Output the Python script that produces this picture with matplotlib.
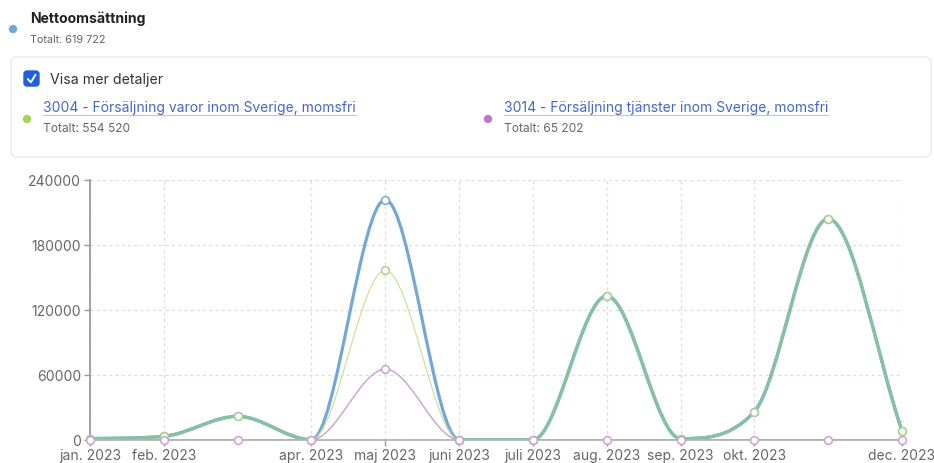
import numpy as np
import matplotlib
matplotlib.use("Agg")
import matplotlib.pyplot as plt
from matplotlib.path import Path
from matplotlib.patches import PathPatch, FancyBboxPatch, Circle

plt.rcParams['font.family'] = ['Inter', 'DejaVu Sans']

# --- data ---
months = ["jan. 2023", "feb. 2023", "mar. 2023", "apr. 2023", "maj 2023", "juni 2023",
          "juli 2023", "aug. 2023", "sep. 2023", "okt. 2023", "nov. 2023", "dec. 2023"]
shown_ticks = [0, 1, 3, 4, 5, 6, 7, 8, 9, 11]   # mar + nov are skipped in the original
varor = [1000, 3100, 21600, 0, 156500, 0, 0, 132800, 1000, 26000, 204200, 8320]      # 3004
tjanster = [0, 0, 0, 0, 65202, 0, 0, 0, 0, 0, 0, 0]                                   # 3014
total = [a + b for a, b in zip(varor, tjanster)]                                       # Nettoomsättning
yticks = [0, 60000, 120000, 180000, 240000]

header_title = "Nettoomsättning"
header_total = "Totalt: 619 722"
check_label = "Visa mer detaljer"
series_names = ["3004 - Försäljning varor inom Sverige, momsfri",
                "3014 - Försäljning tjänster inom Sverige, momsfri"]
series_totals = ["Totalt: 554 520", "Totalt: 65 202"]

BLUE = "#74a7d4"
MINT = "#86c1a2"
LIME = "#c9e39a"
PURPLE = "#cc9fd4"
LINK = "#4467c9"
GREY = "#666666"


def monotone_segments(x, y):
    """bezier control points like chart.js 'monotone' interpolation"""
    x = np.asarray(x, float)
    y = np.asarray(y, float)
    n = len(x)
    d = np.diff(y) / np.diff(x)
    m = np.zeros(n)
    m[0] = d[0]
    m[-1] = d[-1]
    for i in range(1, n - 1):
        if np.sign(d[i - 1]) != np.sign(d[i]):
            m[i] = 0
        else:
            m[i] = (d[i - 1] + d[i]) / 2
    for i in range(n - 1):
        if d[i] == 0:
            m[i] = m[i + 1] = 0
            continue
        a = m[i] / d[i]
        b = m[i + 1] / d[i]
        s = a * a + b * b
        if s > 9:
            t = 3 / np.sqrt(s)
            m[i] = t * a * d[i]
            m[i + 1] = t * b * d[i]
    segs = []
    for i in range(n - 1):
        h = (x[i + 1] - x[i]) / 3
        segs.append([(x[i], y[i]), (x[i] + h, y[i] + m[i] * h),
                     (x[i + 1] - h, y[i + 1] - m[i + 1] * h), (x[i + 1], y[i + 1])])
    return segs


def curve(ax, y, color, lw, keep=None, z=2):
    segs = monotone_segments(range(len(y)), y)
    verts, codes = [], []
    for i, s in enumerate(segs):
        if keep is not None and not keep[i]:
            continue
        verts += s
        codes += [Path.MOVETO, Path.CURVE4, Path.CURVE4, Path.CURVE4]
    p = PathPatch(Path(verts, codes), fill=False, edgecolor=color, lw=lw,
                  capstyle='round', joinstyle='round', zorder=z)
    ax.add_patch(p)


W, H = 934, 464
fig = plt.figure(figsize=(W / 100, H / 100), dpi=100)

# background layer in pixel coords for the header / legend box
bg = fig.add_axes([0, 0, 1, 1])
bg.set_xlim(0, W)
bg.set_ylim(H, 0)
bg.axis("off")

bg.add_patch(Circle((13, 30), 3.5, color=BLUE))
bg.text(30, 19, header_title, fontsize=10.1, fontweight="bold", color="#222222", va="center")
bg.text(30, 40, header_total, fontsize=7.8, color=GREY, va="center")

bg.add_patch(FancyBboxPatch((11, 58), 920, 100, boxstyle="round,pad=0,rounding_size=6",
                            fill=False, edgecolor="#e3e3e3", lw=0.8))
bg.add_patch(FancyBboxPatch((24, 72), 15, 15, boxstyle="round,pad=0,rounding_size=3",
                            color="#1f5fe0"))
bg.plot([27.8, 30.8, 35.5], [80, 83.3, 75.8], color="white", lw=1.4, solid_capstyle="round")
bg.text(50, 80, check_label, fontsize=10.2, color="#333333", va="center")

for xl, dot, name, tot in [(43, "#a6d45e", series_names[0], series_totals[0]),
                           (504, "#b77cc5", series_names[1], series_totals[1])]:
    bg.add_patch(Circle((xl - 16, 120), 3.5, color=dot))
    bg.text(xl, 108, name, fontsize=10.0, color=LINK, va="center")
    bg.text(xl, 129, tot, fontsize=8.6, color=GREY, va="center")

fig.canvas.draw()
r = fig.canvas.get_renderer()
for t in bg.texts:
    if t.get_color() == LINK:
        bb = t.get_window_extent(r)
        bg.plot([bb.x0, bb.x1], [H - bb.y0 + 1, H - bb.y0 + 1], color="#b9c6ea", lw=0.8)

# --- chart ---
ax = fig.add_axes([90 / W, 1 - 440.7 / H, (902 - 90) / W, (440.7 - 181) / H])
ax.set_xlim(0, len(months) - 1)
ax.set_ylim(0, 240000)
ax.patch.set_alpha(0)

x = np.arange(len(months))
keep_mint = [tjanster[i] == 0 and tjanster[i + 1] == 0 for i in range(len(months) - 1)]
keep_lime = [not k for k in keep_mint]

curve(ax, total, BLUE, 2.3, z=3)
curve(ax, varor, MINT, 2.4, keep=keep_mint, z=3.1)
curve(ax, varor, LIME, 0.9, keep=keep_lime, z=3.2)
curve(ax, tjanster, PURPLE, 1.0, z=3.3)

mk = dict(ls="none", marker="o", ms=5.6, mfc="white", mew=1.1, clip_on=False)
ax.plot(x, total, mec=BLUE, zorder=4, **mk)
ax.plot(x, varor, mec="#a9d38a", zorder=4.1, **mk)
ax.plot(x, tjanster, mec=PURPLE, zorder=4.2, **mk)

ax.set_xticks(shown_ticks)
ax.set_xticklabels([months[i] for i in shown_ticks])
ax.set_yticks(yticks)
ax.set_yticklabels([str(v) for v in yticks])
ax.tick_params(axis="both", colors="#999999", labelcolor=GREY, labelsize=10.0, length=4.5, width=1)
ax.tick_params(axis="x", pad=1.5)
ax.tick_params(axis="y", pad=2)

ax.grid(True, color="#dddddd", ls=(0, (2.5, 2.5)), lw=0.9)
for s in ["top", "right"]:
    ax.spines[s].set_visible(False)
ax.spines["left"].set_color("#9a9a9a")
ax.spines["left"].set_linewidth(1.3)
ax.spines["bottom"].set_color("#a8a8a8")
ax.spines["bottom"].set_linewidth(1.1)

fig.savefig("out.png", dpi=100)
